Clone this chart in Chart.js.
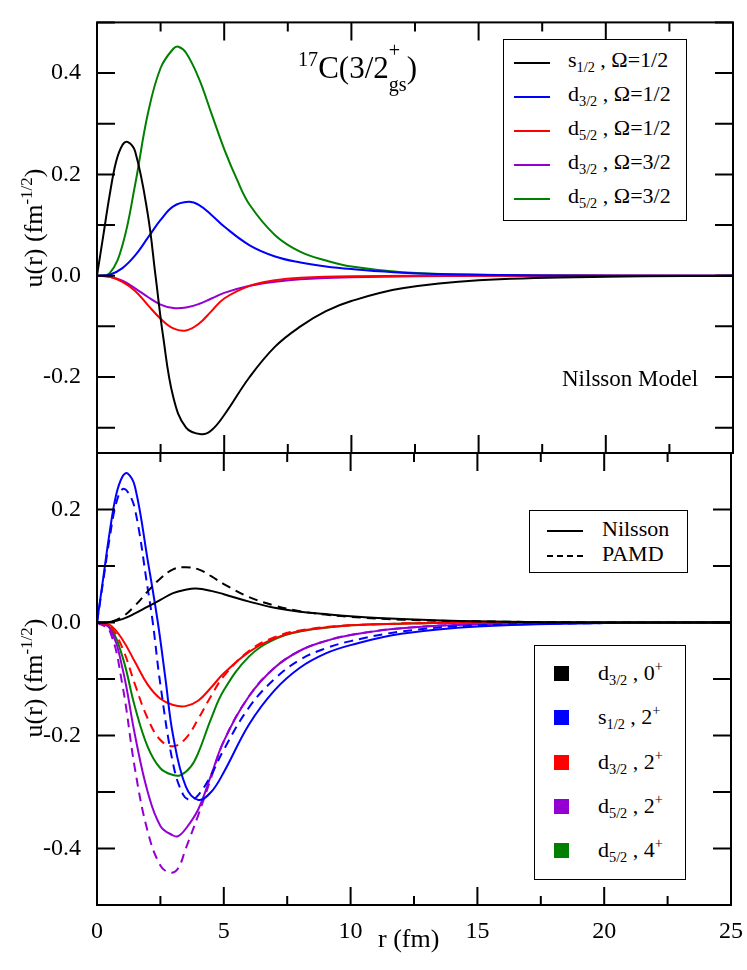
<!DOCTYPE html>
<html>
<head>
<meta charset="utf-8">
<script src="https://cdn.jsdelivr.net/npm/chart.js@4.4.0/dist/chart.umd.min.js"></script>
<style>
  body { margin: 0; background: #fff; font-family: "Liberation Serif", "Times New Roman", Times, "DejaVu Serif", serif; }
  #wrap { position: relative; width: 747px; height: 970px; }
  canvas { position: absolute; left: 0; top: 0; }
  .lbl { position: absolute; color: #000; white-space: nowrap; }
  .box { position: absolute; border: 1.5px solid #000; background: #fff; }
  .row { position: absolute; font-size: 22px; white-space: nowrap; }
  .ln { position: absolute; width: 36px; height: 0; border-top: 2px solid #000; }
  .sq { position: absolute; width: 15px; height: 15px; }
  sub { font-size: 65%; vertical-align: -0.35em; }
  sup { font-size: 65%; vertical-align: 0.6em; }
  .ytitle { position: absolute; font-size: 26px; transform: rotate(-90deg); transform-origin: center; }
</style>
</head>
<body>
<div id="wrap">
  <canvas id="top" width="747" height="970"></canvas>
  <canvas id="bot" width="747" height="970"></canvas>

  <div class="ytitle" style="left:-62px; top:212px; width:190px; text-align:center;">u(r) (fm<sup>-1/2</sup>)</div>
  <div class="ytitle" style="left:-62px; top:662px; width:190px; text-align:center;">u(r) (fm<sup>-1/2</sup>)</div>
  <div class="lbl" style="left:298px; top:48px; font-size:31px;"><sup>17</sup>C(3/2<span style="display:inline-block;vertical-align:0;line-height:1;position:relative;"><span style="position:absolute;font-size:65%;top:-12px;left:0;">+</span><span style="font-size:65%;position:relative;top:13px;">gs</span></span>)</div>
  <div class="lbl" style="left:562px; top:366px; font-size:23px;">Nilsson Model</div>
  <div class="lbl" style="left:378px; top:924px; font-size:26px;">r (fm)</div>

  <div class="box" style="left:503px; top:39px; width:182px; height:180px;">
    <div class="ln" style="left:10px; top:22px; border-color:#000;"></div><div class="row" style="left:64px; top:7px;">s<sub>1/2</sub> , Ω=1/2</div>
    <div class="ln" style="left:10px; top:56px; border-color:#0000ff;"></div><div class="row" style="left:64px; top:41px;">d<sub>3/2</sub> , Ω=1/2</div>
    <div class="ln" style="left:10px; top:90px; border-color:#ff0000;"></div><div class="row" style="left:64px; top:75px;">d<sub>5/2</sub> , Ω=1/2</div>
    <div class="ln" style="left:10px; top:124px; border-color:#9400d3;"></div><div class="row" style="left:64px; top:109px;">d<sub>3/2</sub> , Ω=3/2</div>
    <div class="ln" style="left:10px; top:158px; border-color:#008000;"></div><div class="row" style="left:64px; top:143px;">d<sub>5/2</sub> , Ω=3/2</div>
  </div>

  <div class="box" style="left:529px; top:510px; width:157px; height:61px;">
    <div class="ln" style="left:17px; top:19px;"></div><div class="row" style="left:72px; top:5px;">Nilsson</div>
    <div class="ln" style="left:17px; top:44px; border-top:2px dashed #000;"></div><div class="row" style="left:72px; top:30px;">PAMD</div>
  </div>

  <div class="box" style="left:534px; top:645px; width:150px; height:233px;">
    <div class="sq" style="left:19px; top:20px; background:#000;"></div><div class="row" style="left:63px; top:12px;">d<sub>3/2</sub> , 0<sup>+</sup></div>
    <div class="sq" style="left:19px; top:64px; background:#0000ff;"></div><div class="row" style="left:63px; top:56px;">s<sub>1/2</sub> , 2<sup>+</sup></div>
    <div class="sq" style="left:19px; top:109px; background:#ff0000;"></div><div class="row" style="left:63px; top:101px;">d<sub>3/2</sub> , 2<sup>+</sup></div>
    <div class="sq" style="left:19px; top:153px; background:#9400d3;"></div><div class="row" style="left:63px; top:145px;">d<sub>5/2</sub> , 2<sup>+</sup></div>
    <div class="sq" style="left:19px; top:197px; background:#008000;"></div><div class="row" style="left:63px; top:189px;">d<sub>5/2</sub> , 4<sup>+</sup></div>
  </div>
</div>

<script>
// ---- top panel: Nilsson model components ----
const topS12R = [0,0.25,0.5,0.75,1,1.2,1.5,2,2.3,2.6,3,3.5,4.1,4.5,5,6,7,8,9,10,12,15,20,25];
const topS12U = [0,0.08,0.16,0.225,0.258,0.264,0.245,0.12,0,-0.12,-0.24,-0.3,-0.313,-0.305,-0.275,-0.2,-0.14,-0.1,-0.07,-0.05,-0.025,-0.009,-0.002,0];
const topD32aR = [0,0.5,1,1.5,2,2.5,3,3.6,4,4.5,5,6,7,8,9,10,12,15,20,25];
const topD32aU = [0,0.002,0.015,0.04,0.075,0.11,0.137,0.146,0.14,0.12,0.097,0.06,0.038,0.026,0.018,0.013,0.006,0.002,0,0];
const topD52aR = [0,0.5,1,1.5,2,2.5,3,3.5,4,4.5,5,6,7,8,10,15,25];
const topD52aU = [0,-0.002,-0.012,-0.03,-0.058,-0.085,-0.104,-0.108,-0.095,-0.07,-0.045,-0.02,-0.009,-0.004,-0.001,0,0];
const topD32bR = [0,0.5,1,1.5,2,2.5,3,3.5,4,4.5,5,6,7,8,10,15,25];
const topD32bU = [0,-0.002,-0.01,-0.025,-0.042,-0.057,-0.064,-0.063,-0.056,-0.045,-0.034,-0.02,-0.012,-0.007,-0.003,0,0];
const topD52bR = [0,0.5,1,1.5,2,2.5,3,3.2,3.5,4,4.5,5,5.5,6,7,8,9,10,12,15,20,25];
const topD52bU = [0,0.005,0.06,0.18,0.32,0.41,0.448,0.452,0.44,0.39,0.32,0.25,0.19,0.14,0.08,0.047,0.03,0.018,0.007,0.002,0,0];

// ---- bottom panel: Nilsson (solid) vs PAMD (dashed) ----
const botD32_0R = [0,0.5,1,1.5,2,2.5,3,3.5,3.9,4.5,5,6,7,8,9,10,12,15,20,25];
const botD32_0U = [0,0.001,0.006,0.016,0.028,0.04,0.052,0.058,0.06,0.056,0.05,0.037,0.026,0.019,0.015,0.011,0.006,0.002,0,0];
const botD32_0PR = [0,0.5,1,1.5,2,2.5,3,3.5,4,4.5,5,6,7,8,9,10,12,15,20,25];
const botD32_0PU = [0,0.001,0.01,0.03,0.055,0.078,0.094,0.098,0.094,0.082,0.068,0.045,0.03,0.02,0.014,0.01,0.005,0.002,0,0];
const botS12_2R = [0,0.25,0.5,0.75,1,1.2,1.5,2,2.4,2.7,3,3.5,4,4.5,5,6,7,8,9,10,12,15,20,25];
const botS12_2U = [0,0.08,0.16,0.225,0.258,0.264,0.24,0.11,0,-0.1,-0.2,-0.29,-0.314,-0.3,-0.265,-0.18,-0.12,-0.08,-0.055,-0.04,-0.02,-0.007,-0.001,0];
const botS12_2PR = [0,0.25,0.5,0.75,1,1.2,1.5,2,2.2,2.5,3,3.4,3.7,4,4.5,5,6,7,8,9,10,12,15,20,25];
const botS12_2PU = [0,0.075,0.15,0.21,0.236,0.232,0.2,0.06,0,-0.11,-0.25,-0.305,-0.314,-0.305,-0.27,-0.225,-0.15,-0.1,-0.066,-0.046,-0.033,-0.016,-0.005,-0.001,0];
const botD32_2R = [0,0.5,1,1.5,2,2.5,3,3.5,4,4.5,5,6,7,8,10,12,15,25];
const botD32_2U = [0,-0.004,-0.03,-0.07,-0.11,-0.135,-0.146,-0.148,-0.138,-0.115,-0.09,-0.052,-0.028,-0.015,-0.005,-0.002,0,0];
const botD32_2PR = [0,0.5,1,1.5,2,2.5,3,3.5,4,4.5,5,6,7,8,10,15,25];
const botD32_2PU = [0,-0.006,-0.045,-0.11,-0.17,-0.208,-0.219,-0.205,-0.17,-0.13,-0.095,-0.05,-0.026,-0.014,-0.005,0,0];
const botD52_2R = [0,0.5,1,1.5,2,2.5,3,3.2,3.5,4,4.5,5,6,7,8,9,10,12,15,20,25];
const botD52_2U = [0,-0.01,-0.08,-0.2,-0.3,-0.36,-0.377,-0.378,-0.365,-0.33,-0.27,-0.21,-0.13,-0.08,-0.05,-0.033,-0.022,-0.01,-0.003,0,0];
const botD52_2PR = [0,0.5,1,1.5,2,2.5,2.9,3.2,3.5,4,4.5,5,6,7,8,9,10,12,15,20,25];
const botD52_2PU = [0,-0.015,-0.11,-0.26,-0.37,-0.43,-0.443,-0.435,-0.4,-0.34,-0.275,-0.21,-0.13,-0.08,-0.05,-0.033,-0.022,-0.01,-0.003,0,0];
const botD52_4R = [0,0.5,1,1.5,2,2.5,3,3.3,3.7,4,4.5,5,6,7,8,10,12,15,25];
const botD52_4U = [0,-0.008,-0.06,-0.15,-0.22,-0.258,-0.27,-0.27,-0.255,-0.23,-0.17,-0.12,-0.06,-0.03,-0.016,-0.005,-0.002,0,0];

const xTicks = [0, 5, 10, 15, 20, 25];
const serif = "'Liberation Serif', 'Times New Roman', Times, 'DejaVu Serif', serif";

function pts(r, u) { return r.map((x, i) => ({ x: x, y: u[i] })); }
function line(r, u, color, dashed) {
  return {
    data: pts(r, u), borderColor: color, borderWidth: 2, pointRadius: 0,
    showLine: true, fill: false, tension: 0.4,
    borderDash: dashed ? [9, 6] : []
  };
}

// frame + inward ticks on all four sides
const framePlugin = {
  id: 'frame',
  afterDatasetsDraw(chart, args, opts) {
    const ctx = chart.ctx, a = chart.chartArea;
    const xs = chart.scales.x, ys = chart.scales.y;
    ctx.save();
    ctx.strokeStyle = '#000';
    ctx.lineWidth = 2;
    ctx.strokeRect(a.left, a.top, a.right - a.left, a.bottom - a.top);
    ctx.beginPath();
    for (let v = 0; v <= 25; v += 2.5) {
      const px = xs.getPixelForValue(v);
      const len = (v % 5 === 0) ? 18 : 9;
      ctx.moveTo(px, a.bottom); ctx.lineTo(px, a.bottom - len);
      ctx.moveTo(px, a.top); ctx.lineTo(px, a.top + len);
    }
    for (let k = Math.ceil(opts.ymin * 10); k <= Math.floor(opts.ymax * 10); k++) {
      const py = ys.getPixelForValue(k / 10);
      ctx.moveTo(a.left, py); ctx.lineTo(a.left + 18, py);
      ctx.moveTo(a.right, py); ctx.lineTo(a.right - 18, py);
    }
    ctx.stroke();
    ctx.restore();
  }
};

function makeChart(id, datasets, ymin, ymax, yTicks, padTop, xHeight, showX) {
  return new Chart(document.getElementById(id), {
    type: 'scatter',
    data: { datasets: datasets },
    plugins: [framePlugin],
    options: {
      responsive: false, animation: false,
      layout: { padding: { top: padTop, right: 14, left: 0, bottom: 0 } },
      plugins: { legend: { display: false }, tooltip: { enabled: false }, frame: { ymin: ymin, ymax: ymax } },
      scales: {
        x: {
          type: 'linear', min: 0, max: 25,
          grid: { display: false }, border: { display: false },
          afterBuildTicks: s => { s.ticks = xTicks.map(v => ({ value: v })); },
          afterFit: s => { s.height = xHeight; },
          ticks: { display: showX, color: '#000', padding: 4, font: { family: serif, size: 24 } }
        },
        y: {
          min: ymin, max: ymax,
          grid: { display: false }, border: { display: false },
          afterBuildTicks: s => { s.ticks = yTicks.map(v => ({ value: v })); },
          afterFit: s => { s.width = 97; },
          ticks: { color: '#000', padding: 8, font: { family: serif, size: 24 }, callback: v => v.toFixed(1) }
        }
      }
    }
  });
}

makeChart('top', [
  line(topS12R, topS12U, '#000000'),
  line(topD32aR, topD32aU, '#0000ff'),
  line(topD52aR, topD52aU, '#ff0000'),
  line(topD32bR, topD32bU, '#9400d3'),
  line(topD52bR, topD52bU, '#008000')
], -0.35, 0.5, [-0.2, 0, 0.2, 0.4], 3, 970 - 453, false);

makeChart('bot', [
  line(botD32_0R, botD32_0U, '#000000'),
  line(botD32_0PR, botD32_0PU, '#000000', true),
  line(botS12_2R, botS12_2U, '#0000ff'),
  line(botS12_2PR, botS12_2PU, '#0000ff', true),
  line(botD32_2R, botD32_2U, '#ff0000'),
  line(botD32_2PR, botD32_2PU, '#ff0000', true),
  line(botD52_2R, botD52_2U, '#9400d3'),
  line(botD52_2PR, botD52_2PU, '#9400d3', true),
  line(botD52_4R, botD52_4U, '#008000')
], -0.5, 0.3, [-0.4, -0.2, 0, 0.2], 453, 970 - 905, true);
</script>
</body>
</html>
